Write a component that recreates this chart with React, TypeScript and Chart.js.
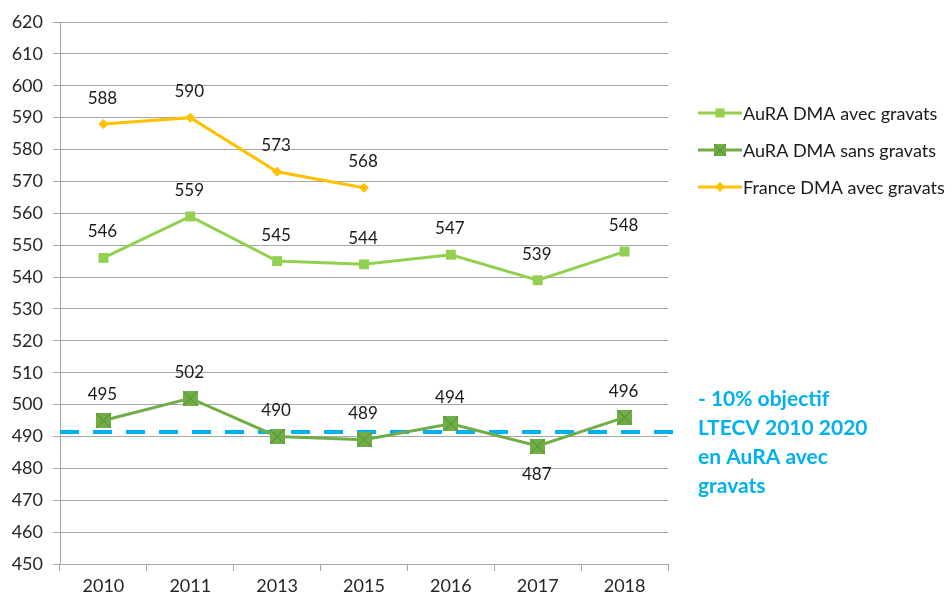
import React, { useEffect, useRef } from "react";
import { Chart, registerables } from "chart.js";
Chart.register(...registerables);

const YEARS = ["2010", "2011", "2013", "2015", "2016", "2017", "2018"];
const AURA_AVEC = [546, 559, 545, 544, 547, 539, 548];
const AURA_SANS = [495, 502, 490, 489, 494, 487, 496];
const FRANCE_AVEC = [588, 590, 573, 568, null, null, null];
const SANS_LABEL_POS = ["above", "above", "above", "above", "above", "below", "above"];
const TARGET = 491.4;
const Y_MIN = 450;
const Y_MAX = 620;
const Y_STEP = 10;
const SERIES_NAMES = ["AuRA DMA avec gravats", "AuRA DMA sans gravats", "France DMA avec gravats"];
const NOTE_LINES = ["- 10% objectif", "LTECV 2010 2020", "en AuRA avec", "gravats"];

const C_LIGHT = "#92D050";
const C_DARK = "#70AD47";
const C_DARK_X = "#4E8A2E";
const C_FRANCE = "#FFC000";
const C_TARGET = "#00B0F0";
const FONT = "Lato, 'Open Sans', sans-serif";

function drawSquare(ctx: CanvasRenderingContext2D, x: number, y: number, s: number, fill: string) {
  ctx.fillStyle = fill;
  ctx.fillRect(x - s / 2, y - s / 2, s, s);
}
function drawXSquare(ctx: CanvasRenderingContext2D, x: number, y: number, s: number) {
  ctx.fillStyle = C_DARK;
  ctx.fillRect(x - s / 2, y - s / 2, s, s);
  ctx.strokeStyle = C_DARK_X;
  ctx.lineWidth = 1;
  ctx.beginPath();
  ctx.moveTo(x - s / 2, y - s / 2);
  ctx.lineTo(x + s / 2, y + s / 2);
  ctx.moveTo(x + s / 2, y - s / 2);
  ctx.lineTo(x - s / 2, y + s / 2);
  ctx.stroke();
}
function drawDiamond(ctx: CanvasRenderingContext2D, x: number, y: number, r: number) {
  ctx.fillStyle = C_FRANCE;
  ctx.beginPath();
  ctx.moveTo(x, y - r);
  ctx.lineTo(x + r, y);
  ctx.lineTo(x, y + r);
  ctx.lineTo(x - r, y);
  ctx.closePath();
  ctx.fill();
}

function makeXSquareImage(s: number) {
  const c = document.createElement("canvas");
  c.width = s;
  c.height = s;
  const ctx = c.getContext("2d")!;
  drawXSquare(ctx, s / 2, s / 2, s);
  return c;
}

const overlayPlugin = {
  id: "overlay",
  beforeDatasetsDraw(chart: any) {
    const { ctx, chartArea, scales } = chart;
    const y = scales.y.getPixelForValue(TARGET);
    ctx.save();
    ctx.strokeStyle = C_TARGET;
    ctx.lineWidth = 4;
    ctx.setLineDash([19, 14]);
    ctx.beginPath();
    ctx.moveTo(chartArea.left, y);
    ctx.lineTo(chartArea.right + 10, y);
    ctx.stroke();
    ctx.restore();
  },
  afterDraw(chart: any) {
    const { ctx } = chart;
    ctx.save();
    // data labels
    ctx.font = `17px ${FONT}`;
    ctx.fillStyle = "#1a1a1a";
    ctx.textAlign = "center";
    ctx.textBaseline = "middle";
    chart.data.datasets.forEach((ds: any, di: number) => {
      const meta = chart.getDatasetMeta(di);
      meta.data.forEach((pt: any, i: number) => {
        const v = ds.data[i];
        if (v === null || v === undefined) return;
        const below = di === 1 && SANS_LABEL_POS[i] === "below";
        const ly = below ? pt.y + 28 : pt.y - 26;
        ctx.fillText(String(Math.round(v)), pt.x - 1, ly);
      });
    });
    // legend
    const lx = 698;
    const rows = [113, 150, 187];
    ctx.textAlign = "left";
    ctx.font = `18px ${FONT}`;
    const colors = [C_LIGHT, C_DARK, C_FRANCE];
    rows.forEach((ry, i) => {
      ctx.strokeStyle = colors[i];
      ctx.lineWidth = 3;
      ctx.setLineDash([]);
      ctx.beginPath();
      ctx.moveTo(lx, ry);
      ctx.lineTo(lx + 44, ry);
      ctx.stroke();
      if (i === 0) drawSquare(ctx, lx + 22, ry, 9, C_LIGHT);
      if (i === 1) drawXSquare(ctx, lx + 22, ry, 12);
      if (i === 2) drawDiamond(ctx, lx + 22, ry, 5);
      ctx.fillStyle = "#1a1a1a";
      ctx.fillText(SERIES_NAMES[i], lx + 45, ry + 1);
    });
    // note
    ctx.font = `bold 21px ${FONT}`;
    ctx.fillStyle = C_TARGET;
    NOTE_LINES.forEach((t, i) => {
      ctx.fillText(t, 698, 399 + i * 29);
    });
    ctx.restore();
  },
};

export default function App() {
  const ref = useRef<HTMLCanvasElement>(null);
  useEffect(() => {
    document.body.style.margin = "0";
    const xImg = makeXSquareImage(15);
    const chart = new Chart(ref.current!, {
      type: "line",
      data: {
        labels: YEARS,
        datasets: [
          {
            label: SERIES_NAMES[0],
            data: AURA_AVEC,
            borderColor: C_LIGHT,
            backgroundColor: C_LIGHT,
            borderWidth: 3,
            pointStyle: "rect",
            pointRadius: 7,
            pointBorderWidth: 0,
            tension: 0,
          },
          {
            label: SERIES_NAMES[1],
            data: AURA_SANS,
            borderColor: C_DARK,
            backgroundColor: C_DARK,
            borderWidth: 3,
            pointStyle: xImg as any,
            pointRadius: 7,
            tension: 0,
          },
          {
            label: SERIES_NAMES[2],
            data: FRANCE_AVEC,
            borderColor: C_FRANCE,
            backgroundColor: C_FRANCE,
            borderWidth: 3,
            pointStyle: "rectRot",
            pointRadius: 5,
            pointBorderWidth: 0,
            tension: 0,
            spanGaps: false,
          },
        ],
      },
      options: {
        animation: false,
        responsive: false,
        maintainAspectRatio: false,
        layout: { padding: { top: 22, right: 284, left: 0, bottom: 0 } },
        plugins: { legend: { display: false }, tooltip: { enabled: false } },
        scales: {
          x: {
            type: "category",
            offset: true,
            grid: {
              offset: true,
              drawOnChartArea: false,
              drawTicks: true,
              tickLength: 7,
              color: "#a6a6a6",
            },
            border: { color: "#a6a6a6", width: 1 },
            ticks: { color: "#262626", font: { family: FONT, size: 18 }, padding: 4, maxRotation: 0 },
            afterFit: (s: any) => {
              s.height = 33;
            },
          },
          y: {
            min: Y_MIN,
            max: Y_MAX,
            grid: { color: "#a6a6a6", tickLength: 7, drawTicks: true },
            border: { color: "#a6a6a6", width: 1 },
            ticks: { stepSize: Y_STEP, color: "#262626", font: { family: FONT, size: 18 }, padding: 10 },
            afterFit: (s: any) => {
              s.width = 60;
            },
          },
        },
      },
      plugins: [overlayPlugin],
    });
    return () => chart.destroy();
  }, []);
  return (
    <div style={{ position: "absolute", left: 0, top: 0, width: 952, height: 597, background: "#fff" }}>
      <canvas ref={ref} width={952} height={597} style={{ width: 952, height: 597 }} />
    </div>
  );
}
